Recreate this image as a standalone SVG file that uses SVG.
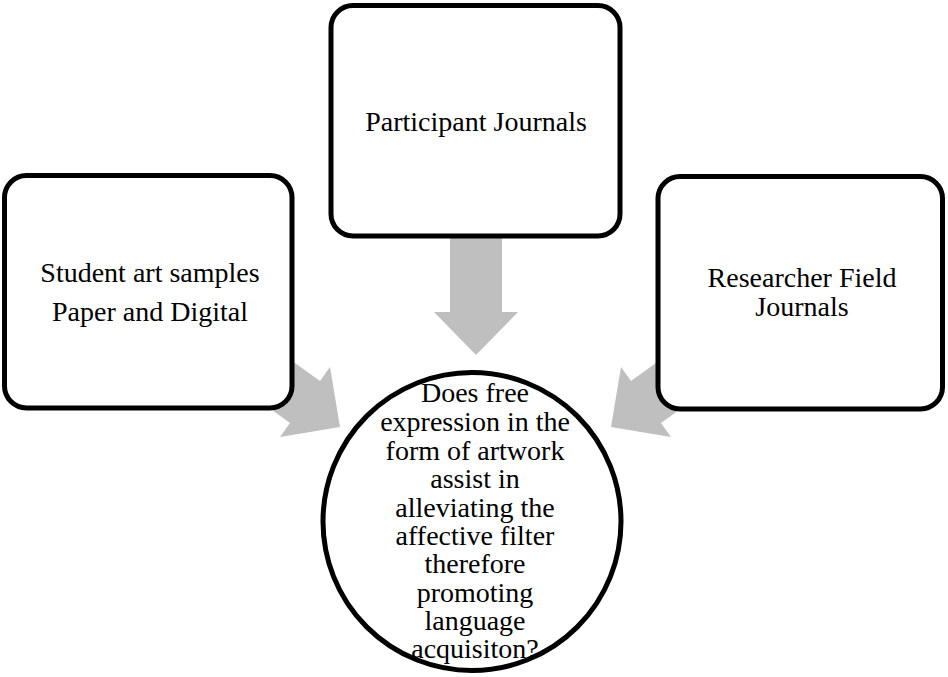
<svg xmlns="http://www.w3.org/2000/svg" width="948" height="677" viewBox="0 0 948 677">
<style>
.box{fill:#fff;stroke:#000;stroke-width:5}
.arrow{fill:#bfbfbf;stroke:none}
text{font-family:"Liberation Serif","DejaVu Serif",serif;font-size:28px;fill:#000;text-anchor:middle}
.q{font-size:26px}
</style>
<rect width="948" height="677" fill="#fff"/>
<g id="connectors">
<polygon class="arrow" points="450,230 502,230 502,312 518,312 476,355 434,312 450,312"/>
<polygon class="arrow" points="255,334 320,381 330,367 340,427 280,437 290,423 225,376"/>
<polygon class="arrow" points="696,334 631,381 621,367 611,427 671,437 661,423 726,376"/>
</g>
<g id="node-student">
<rect class="box" x="4.5" y="175.5" width="287.5" height="232.5" rx="22"/>
<text x="150" y="282">Student art samples</text>
<text x="150" y="321">Paper and Digital</text>
</g>
<g id="node-participant">
<rect class="box" x="331" y="5.5" width="289" height="230.5" rx="22"/>
<text x="476" y="131">Participant Journals</text>
</g>
<g id="node-researcher">
<rect class="box" x="658" y="176.5" width="284.5" height="232.5" rx="22"/>
<text x="802" y="287">Researcher Field</text>
<text x="802" y="316">Journals</text>
</g>
<g id="node-question">
<circle class="box" cx="472" cy="521.5" r="149"/>
<g class="q">
<text x="475" y="402">Does free</text>
<text x="475" y="431">expression in the</text>
<text x="475" y="460">form of artwork</text>
<text x="475" y="488">assist in</text>
<text x="475" y="517">alleviating the</text>
<text x="475" y="545">affective filter</text>
<text x="475" y="573">therefore</text>
<text x="475" y="602">promoting</text>
<text x="475" y="630">language</text>
<text x="475" y="658">acquisiton?</text>
</g>
</g>
</svg>
